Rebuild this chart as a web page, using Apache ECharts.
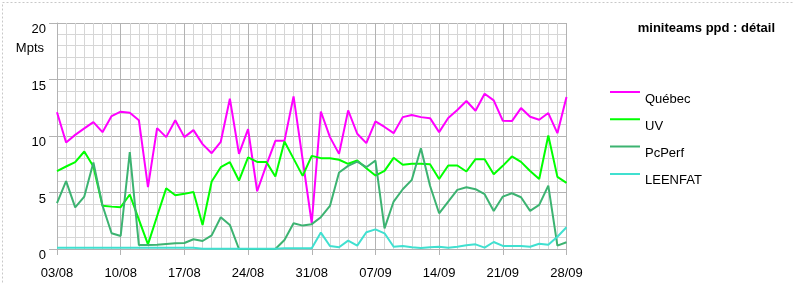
<!DOCTYPE html>
<html>
<head>
<meta charset="utf-8">
<script src="https://cdn.jsdelivr.net/npm/echarts@6/dist/echarts.min.js"></script>
<style>
html,body{margin:0;padding:0;background:#fff;}
#chart{width:794px;height:284px;}
</style>
</head>
<body>
<div id="chart"></div>
<script>
const dates = ['03/08','04/08','05/08','06/08','07/08','08/08','09/08','10/08','11/08','12/08','13/08','14/08','15/08','16/08','17/08','18/08','19/08','20/08','21/08','22/08','23/08','24/08','25/08','26/08','27/08','28/08','29/08','30/08','31/08','01/09','02/09','03/09','04/09','05/09','06/09','07/09','08/09','09/09','10/09','11/09','12/09','13/09','14/09','15/09','16/09','17/09','18/09','19/09','20/09','21/09','22/09','23/09','24/09','25/09','26/09','27/09','28/09'];
const seriesNames = ['Québec','UV','PcPerf','LEENFAT'];
const quebec = [12.1,9.43,10.1,10.67,11.23,10.34,11.76,12.15,12.06,11.4,5.47,10.7,9.9,11.4,9.9,10.52,9.28,8.48,9.49,13.3,8.42,10.6,5.11,7.4,9.57,9.57,13.5,7.9,2.28,12.17,9.9,8.42,12.26,10.2,9.37,11.29,10.8,10.25,11.67,11.85,11.67,11.58,10.34,11.6,12.3,13.1,12.23,13.74,13.15,11.35,11.32,12.47,11.7,11.44,12.03,10.25,13.45];
const uv = [6.9,7.3,7.68,8.63,7.3,3.82,3.75,3.7,4.82,2.6,0.41,2.9,5.37,4.75,4.88,5.05,2.13,5.97,7.24,7.68,6.06,8.1,7.71,7.71,6.41,9.52,8.0,6.47,8.24,8.04,8.04,7.9,7.54,7.83,7.15,6.5,6.91,8.07,7.45,7.54,7.54,7.5,6.2,7.39,7.39,6.86,7.95,7.95,6.62,7.36,8.19,7.71,6.91,6.2,10.05,6.38,5.85];
const pcperf = [4.05,6.0,3.69,4.64,7.65,3.85,1.39,1.15,8.57,0.35,0.35,0.38,0.45,0.5,0.53,0.86,0.71,1.21,2.81,2.13,0,0,0,0,0,0.8,2.28,2.07,2.2,2.81,3.81,6.77,7.36,7.74,7.24,7.83,1.83,4.2,5.29,6.12,8.92,5.6,3.16,4.2,5.23,5.47,5.29,4.85,3.37,4.64,4.93,4.58,3.37,3.9,5.61,0.3,0.6];
const leenfat = [0.1,0.1,0.1,0.1,0.1,0.1,0.1,0.1,0.1,0.1,0.1,0.1,0.1,0.1,0.1,0.1,0.03,0.03,0.03,0.03,0.03,0.03,0.03,0.03,0.03,0.07,0.07,0.07,0.06,1.45,0.27,0.15,0.74,0.3,1.48,1.74,1.39,0.2,0.27,0.15,0.09,0.15,0.2,0.12,0.2,0.33,0.41,0.12,0.62,0.27,0.27,0.27,0.2,0.47,0.38,1.09,1.92];
const colors = ['#ff00ff','#00ff00','#3cb371','#40e0d0'];
const titleText = 'miniteams ppd : détail';
const yName = 'Mpts';

const FONT = '"Liberation Sans", Arial, sans-serif';
const MAJOR = '#b3b3b3';
const MINOR = '#d6d6d6';

const chart = echarts.init(document.getElementById('chart'), null, {renderer:'canvas'});
const allData = [quebec, uv, pcperf, leenfat];
chart.setOption({
  animation: false,
  backgroundColor: '#ffffff',
  textStyle: {fontFamily: FONT},
  title: {
    text: titleText, right: 19, top: 22, padding: 0,
    textStyle: {fontSize: 13, fontWeight: 'bold', color: '#000', fontFamily: FONT}
  },
  legend: {
    orient: 'vertical', left: 610, top: 91, padding: 0,
    itemWidth: 30, itemHeight: 16, itemGap: 11.3,
    icon: 'path://M0,0H30V2H0Z M0,16H0.01V16.01H0Z',
    textStyle: {fontSize: 13, color: '#000', fontFamily: FONT, lineHeight: 13},
    data: seriesNames
  },
  graphic: [{
    type: 'rect', left: 0, top: 0, silent: true, z: -1,
    shape: {x: 0, y: 0, width: 793, height: 283},
    style: {fill: null, stroke: '#c8c8c8', lineWidth: 1, lineDash: [2, 2]}
  }],
  grid: {left: 57, top: 23, width: 509.5, height: 226, containLabel: false},
  xAxis: [{
    type: 'category', data: dates, boundaryGap: false, position: 'bottom',
    axisLine: {show: false}, axisTick: {show: false}, axisLabel: {show: false},
    splitLine: {show: true, interval: 0, lineStyle: {color: MINOR, width: 1, type: 'solid'}}
  }, {
    type: 'category', data: dates, boundaryGap: false, position: 'bottom',
    axisLine: {show: true, lineStyle: {color: MAJOR, width: 1}},
    axisTick: {show: true, interval: 6, length: 6, lineStyle: {color: MAJOR}},
    axisLabel: {interval: 6, fontSize: 13, color: '#000', margin: 18, fontFamily: FONT},
    splitLine: {show: true, interval: 6, lineStyle: {color: MAJOR, width: 1}}
  }],
  yAxis: {
    type: 'value', min: 0, max: 20, interval: 5,
    name: yName, nameLocation: 'end', nameGap: -32,
    nameTextStyle: {fontSize: 13, color: '#000', align: 'right', padding: [0, 13, 0, 0], fontFamily: FONT},
    axisLine: {show: true, lineStyle: {color: MAJOR}},
    axisTick: {show: true, length: 8, lineStyle: {color: MAJOR}},
    axisLabel: {fontSize: 13, color: '#000', margin: 11, verticalAlign: 'top', lineHeight: 13, fontFamily: FONT},
    splitLine: {show: true, lineStyle: {color: MAJOR, width: 1}},
    minorTick: {show: false, splitNumber: 5},
    minorSplitLine: {show: true, lineStyle: {color: MINOR, width: 1}}
  },
  series: seriesNames.map((n, k) => ({
    name: n, type: 'line', xAxisIndex: 1, data: allData[k],
    showSymbol: false, symbol: 'none', smooth: false,
    lineStyle: {color: colors[k], width: 2},
    itemStyle: {color: colors[k]},
    z: 2 + k
  }))
});
</script>
</body>
</html>
